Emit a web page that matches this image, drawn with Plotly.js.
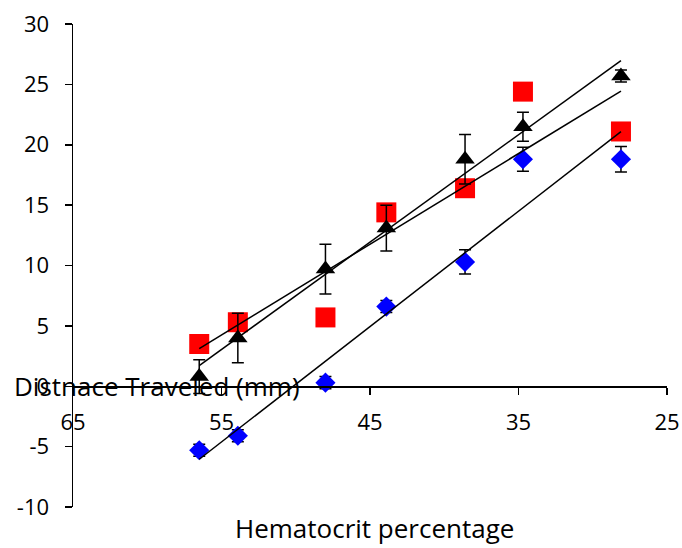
<!DOCTYPE html>
<html>
<head>
<meta charset="utf-8">
<script src="https://cdn.plot.ly/plotly-3.0.1.min.js"></script>
<style>html,body{margin:0;padding:0;background:#fff;}#chart{width:682px;height:548px;}</style>
</head>
<body>
<div id="chart"></div>
<script>
// Hematocrit percentage (x)
var hematocrit = [56.5, 53.9, 48.0, 43.9, 38.6, 34.7, 28.1];
// Distance travelled (mm), three series
var redValues   = [3.5, 5.3, 5.7, 14.4, 16.4, 24.4, 21.1];
var blueValues  = [-5.3, -4.1, 0.3, 6.6, 10.3, 18.8, 18.8];
var blueErrors  = [0.5, 0.5, 0.5, 0.5, 1.0, 1.0, 1.05];
var blackValues = [0.8, 4.0, 9.7, 13.1, 18.8, 21.5, 25.7];
var blackErrors = [1.4, 2.05, 2.05, 1.9, 2.05, 1.2, 0.5];
var yTicks = [-10, -5, 0, 5, 10, 15, 20, 25, 30];
var xTicks = [65, 55, 45, 35, 25];

function fit(xs, ys) {
  var n = xs.length, mx = 0, my = 0;
  for (var i = 0; i < n; i++) { mx += xs[i]; my += ys[i]; }
  mx /= n; my /= n;
  var sxy = 0, sxx = 0;
  for (var j = 0; j < n; j++) { sxy += (xs[j]-mx)*(ys[j]-my); sxx += (xs[j]-mx)*(xs[j]-mx); }
  var b = sxy / sxx, a = my - b*mx;
  var x0 = Math.max.apply(null, xs), x1 = Math.min.apply(null, xs);
  return {x: [x0, x1], y: [a + b*x0, a + b*x1]};
}

var errStyle = {type: 'data', visible: true, color: '#000', thickness: 1.5, width: 6};

var traces = [
  {x: hematocrit, y: redValues, mode: 'markers', type: 'scatter',
   marker: {symbol: 'square', size: 20, color: '#FF0000'}},
  {x: hematocrit, y: blueValues, mode: 'markers', type: 'scatter',
   error_y: Object.assign({array: blueErrors}, errStyle),
   marker: {symbol: 'diamond', size: 15.5, color: '#0000FF'}},
  {x: hematocrit, y: blackValues, mode: 'markers', type: 'scatter',
   error_y: Object.assign({array: blackErrors}, errStyle),
   marker: {symbol: 'triangle-up', size: 17, color: '#000'}}
];
[redValues, blueValues, blackValues].forEach(function (ys) {
  var f = fit(hematocrit, ys);
  traces.push({x: f.x, y: f.y, mode: 'lines', type: 'scatter',
    line: {color: '#000', width: 1.5}, hoverinfo: 'skip'});
});

var font = 'Open Sans, sans-serif';
var layout = {
  width: 682, height: 548,
  margin: {l: 73, r: 15, t: 24, b: 41},
  paper_bgcolor: '#fff', plot_bgcolor: '#fff',
  showlegend: false,
  xaxis: {range: [65, 25], tickvals: xTicks, ticktext: xTicks.map(String),
    showgrid: false, zeroline: false, showline: true, linecolor: '#000', linewidth: 1.5,
    ticks: 'outside', ticklen: 7, tickwidth: 1.5, tickcolor: '#000',
    anchor: 'free', position: 0.25, ticklabelstandoff: 9,
    tickfont: {family: font, size: 22, color: '#000'}},
  yaxis: {range: [-10, 30], tickvals: yTicks, ticktext: yTicks.map(String),
    showgrid: false, zeroline: false, showline: true, linecolor: '#000', linewidth: 1.5,
    ticks: 'outside', ticklen: 7, tickwidth: 1.5, tickcolor: '#000',
    ticklabelstandoff: 11,
    tickfont: {family: font, size: 22, color: '#000'}},
  annotations: [
    {text: 'Distnace Traveled (mm)', xref: 'paper', yref: 'y', x: -0.1027, y: 0,
     xanchor: 'left', yanchor: 'middle', showarrow: false,
     font: {family: font, size: 26, color: '#000'}},
    {text: 'Hematocrit percentage', xref: 'paper', yref: 'paper', x: 0.507, y: -0.085,
     xanchor: 'center', yanchor: 'bottom', showarrow: false,
     font: {family: font, size: 26, color: '#000'}}
  ]
};
Plotly.newPlot('chart', traces, layout, {displayModeBar: false, staticPlot: true});
</script>
</body>
</html>
